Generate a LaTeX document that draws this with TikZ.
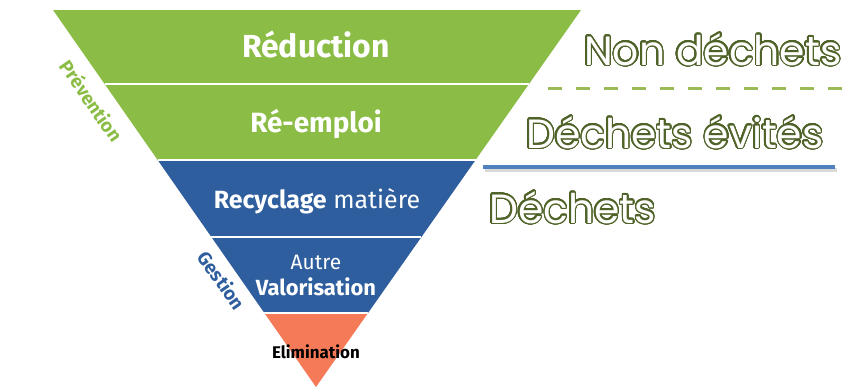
\documentclass[tikz,border=0pt]{standalone}
\usepackage{fontspec}
\setmainfont{Fira Sans}
\newfontfamily\gothic{Poppins}
\usepackage{contour}
\contourlength{1.4bp}
\contournumber{32}
\usetikzlibrary{calc}
\definecolor{pgreen}{RGB}{139,189,70}
\definecolor{pblue}{RGB}{47,94,158}
\definecolor{porange}{RGB}{245,122,87}
\definecolor{olive}{RGB}{79,98,40}
\definecolor{dashgreen}{RGB}{155,187,89}
\definecolor{lineblue}{RGB}{79,129,189}
\tikzset{
  bandtxt/.style={anchor=base, text=white, inner sep=0pt},
  sidetxt/.style={anchor=center, inner sep=0pt, rotate=-55.1, font=\fontsize{19}{19}\selectfont\bfseries},
  bigtxt/.style={anchor=base west, inner sep=0pt, text=white, font=\gothic\fontsize{41}{41}\selectfont},
  sep/.style={white, line width=2.2bp}
}
\begin{document}
\begin{tikzpicture}[x=1bp,y=-1bp]
\useasboundingbox (0,0) rectangle (854,387);
\coordinate (TL) at (53,10);
\coordinate (TR) at (581,10);
\coordinate (A) at (316,387);
% band corners
\foreach \n/\t in {1/0.1963,2/0.3979,3/0.6021,4/0.8037}{
  \coordinate (L\n) at ($(TL)!\t!(A)$);
  \coordinate (R\n) at ($(TR)!\t!(A)$);
}
\fill[pgreen] (TL) -- (TR) -- (R2) -- (L2) -- cycle;
\fill[pblue] (L2) -- (R2) -- (R4) -- (L4) -- cycle;
\fill[porange] (L4) -- (R4) -- (A) -- cycle;
\foreach \n in {1,2,3,4}{ \draw[sep] (L\n) -- (R\n); }
% band labels
\node[bandtxt, font=\fontsize{32}{32}\selectfont\bfseries] (red) at (316,57) {Réduction};
\node[bandtxt, font=\fontsize{28}{28}\selectfont\bfseries] (reem) at (316,132) {Ré-emploi};
\node[bandtxt, font=\fontsize{25}{25}\selectfont] (recy) at (317,208) {\textbf{Recyclage} matière};
\node[bandtxt, font=\fontsize{21}{21}\selectfont] (autre) at (316,269) {Autre};
\node[bandtxt, font=\fontsize{22}{22}\selectfont\bfseries] (valo) at (316,295) {Valorisation};
\node[bandtxt, text=black, font=\fontsize{17}{17}\selectfont\bfseries] (elim) at (316,358) {Elimination};
% side labels
\node[sidetxt, text=pgreen] (prev) at (92,101) {Prévention};
\node[sidetxt, text=pblue] (gest) at (222,280) {Gestion};
% right side
\node[bigtxt] (nond) at (584,65) {\contour{olive}{Non déchets}};
\coordinate (d1) at (548,88);
\coordinate (d2) at (843,88);
\draw[dashgreen, line width=3bp, dash pattern=on 13.5bp off 14.5bp] (d1) -- (d2);
\node[bigtxt] (evit) at (526,148) {\contour{olive}{Déchets évités}};
\coordinate (b1) at (483,167);
\coordinate (b2) at (835,167);
\draw[black!25, line width=4bp, opacity=0.6] ($(b1)+(2,3)$) -- ($(b2)+(2,3)$);
\draw[lineblue, line width=4bp] (b1) -- (b2);
\node[bigtxt] (dech) at (489,223) {\contour{olive}{Déchets}};
\end{tikzpicture}
\end{document}
